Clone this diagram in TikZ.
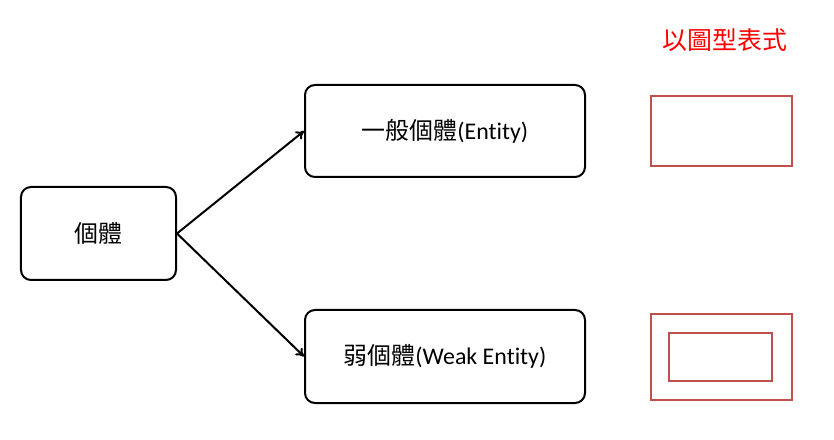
\documentclass[tikz,border=0pt]{standalone}
\usepackage{fontspec}
\setmainfont[Ligatures={NoCommon}]{Carlito}
\newfontfamily\cjk{Noto Sans CJK TC}
\usetikzlibrary{arrows.meta}

\tikzset{
  entbox/.style={draw, line width=2bp, rounded corners=10bp, minimum width=#1, align=center},
  formbox/.style={draw=shapered, line width=2bp, inner sep=0pt}
}
\definecolor{shapered}{RGB}{192,80,77}

\begin{document}
\begin{tikzpicture}[x=1bp,y=-1bp]
\useasboundingbox (0,0) rectangle (834,440);
\node[entbox=155bp, minimum height=93bp] (ent) at (98.5,233.5) {\fontsize{24}{28}\selectfont\cjk 個體};
\node[entbox=280bp, minimum height=92bp] (strong) at (445,131) {\fontsize{24}{28}\selectfont{\cjk 一般個體}(Entity)};
\node[entbox=280bp, minimum height=93bp] (weak) at (445,356.5) {\fontsize{24}{28}\selectfont{\cjk 弱個體}(Weak Entity)};
\draw[-{To[length=8bp,width=10bp]}, line width=2bp] (ent.east) -- (strong.west);
\draw[-{To[length=8bp,width=10bp]}, line width=2bp] (ent.east) -- (weak.west);
\node[red] (title) at (725,40) {\fontsize{25}{28}\selectfont\cjk 以圖型表式};
\draw[formbox] (651,96) rectangle (792,166);
\draw[formbox] (651,314) rectangle (792,400);
\draw[formbox] (669,333) rectangle (772,381);
\end{tikzpicture}
\end{document}
